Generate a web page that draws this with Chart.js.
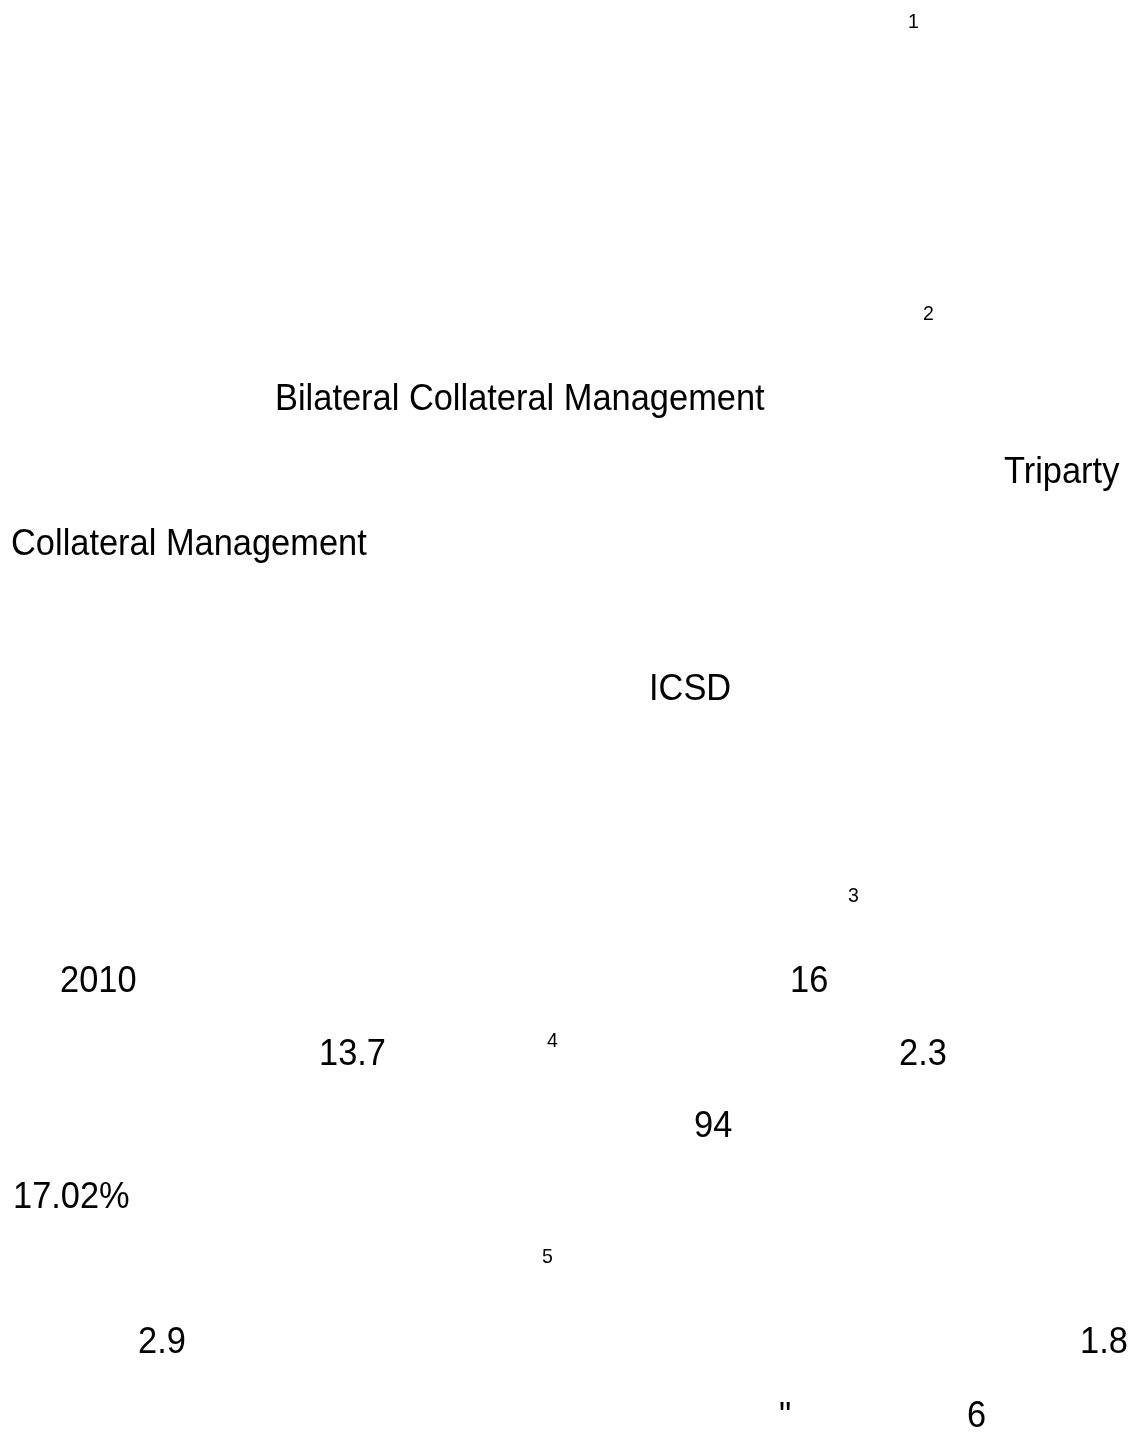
<!DOCTYPE html>
<html>
<head>
<meta charset="utf-8">
<script src="https://cdn.jsdelivr.net/npm/chart.js@4/dist/chart.umd.min.js"></script>
<style>
  html, body { margin: 0; padding: 0; background: #ffffff; }
  #wrap { width: 1131px; height: 1434px; position: relative; }
</style>
</head>
<body>
<div id="wrap"><canvas id="c" width="1131" height="1434"></canvas></div>
<script>
// Text fragments visible on the page (the rest of the page's glyphs did not render)
const fragments = ["1", "2", "Bilateral Collateral Management", "Triparty", "Collateral Management",
  "ICSD", "3", "2010", "16", "13.7", "4", "2.3", "94", "17.02%", "5", "2.9", "1.8", "\"", "6"];
// Page coordinates of each fragment (left edge, baseline), in page pixels
const fragX = [908, 923, 275, 1004, 11, 649, 848, 60, 790, 319, 547, 899, 694, 13, 542, 138, 1080, 779, 967];
const fragY = [28, 320, 410, 483, 555, 700, 902, 992, 992, 1065, 1047, 1065, 1137, 1208, 1263, 1353, 1353, 1428, 1427];
// Which fragments are superscript note markers
const isNote = [true, true, false, false, false, false, true, false, false, false, true, false, false, false, true, false, false, false, false];

const pageW = 1131, pageH = 1434;

const points = fragments.map((t, i) => ({ x: fragX[i], y: fragY[i] }));

const textPlugin = {
  id: 'pageText',
  afterDatasetsDraw(chart) {
    const ctx = chart.ctx;
    const xs = chart.scales.x, ys = chart.scales.y;
    ctx.save();
    ctx.fillStyle = '#000000';
    ctx.textBaseline = 'alphabetic';
    ctx.textAlign = 'left';
    fragments.forEach((t, i) => {
      const px = xs.getPixelForValue(fragX[i]);
      const py = ys.getPixelForValue(fragY[i]);
      ctx.save();
      ctx.translate(px, py);
      ctx.scale(0.93, 1);
      ctx.font = isNote[i] ? '21px "Liberation Sans", Arial, sans-serif' : '37px "Liberation Sans", Arial, sans-serif';
      ctx.fillText(t, 0, 0);
      ctx.restore();
    });
    ctx.restore();
  }
};

new Chart(document.getElementById('c'), {
  type: 'scatter',
  data: {
    datasets: [{
      data: points,
      pointRadius: 0,
      pointHoverRadius: 0,
      showLine: false
    }]
  },
  options: {
    responsive: false,
    animation: false,
    layout: { padding: 0 },
    plugins: { legend: { display: false }, tooltip: { enabled: false } },
    events: [],
    scales: {
      x: { type: 'linear', min: 0, max: pageW, display: false },
      y: { type: 'linear', min: 0, max: pageH, reverse: true, display: false }
    }
  },
  plugins: [textPlugin]
});
</script>
</body>
</html>
